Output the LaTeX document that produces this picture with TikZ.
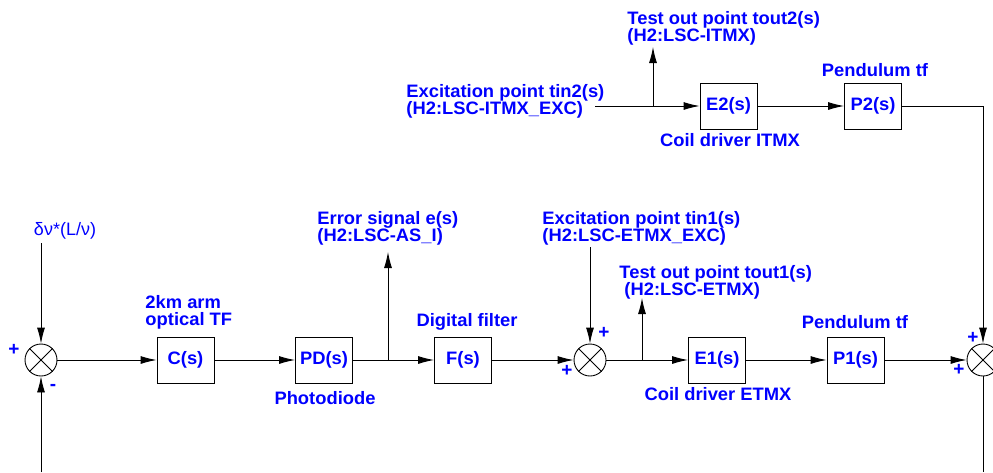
\documentclass[tikz,border=0pt]{standalone}
\usepackage{fontspec}
\setmainfont{Liberation Sans}
\usetikzlibrary{arrows.meta}
\begin{document}
\begin{tikzpicture}[x=1pt,y=-1pt,
  line width=0.9pt,
  lbl/.style={text=blue, font=\bfseries\addfontfeatures{FakeStretch=1.02}\fontsize{18}{17}\selectfont, inner sep=0pt, align=left},
  sgn/.style={text=blue, font=\bfseries\fontsize{19}{19}\selectfont, inner sep=0pt},
  blk/.style={draw, minimum width=57pt, minimum height=46pt, inner sep=0pt, text=blue, font=\bfseries\addfontfeatures{FakeStretch=1.02}\fontsize{18}{17}\selectfont},
  sumj/.style={draw, circle, minimum size=32pt, inner sep=0pt},
  arr/.style={-{Latex[length=16pt,width=8pt]}}]
\useasboundingbox (0,0) rectangle (993,472);
% summing junctions
\node[sumj] (s1) at (41,360) {};
\node[sumj] (s2) at (590,360) {};
\node[sumj] (s3) at (983,360) {};
\foreach \s in {s1,s2,s3}{
  \draw (\s.45) -- (\s.225);
  \draw (\s.135) -- (\s.315);
}
% blocks
\node[blk] (C) at (185.5,360) {C(s)};
\node[blk] (PD) at (324,360) {PD(s)};
\node[blk] (F) at (463,360) {F(s)};
\node[blk] (E1) at (717,360) {E1(s)};
\node[blk] (P1) at (855.5,360) {P1(s)};
\node[blk] (E2) at (728.5,106) {E2(s)};
\node[blk] (P2) at (873,106) {P2(s)};
% labels
\node[text=blue, font=\fontsize{18}{18}\selectfont, inner sep=0pt] (dnu) at (65,231) {δν*(L/ν)};
\node[lbl, anchor=west] (Clbl) at (145,312) {2km arm\\optical TF};
\node[lbl] (PDlbl) at (325,398) {Photodiode};
\node[lbl, anchor=west] (elbl) at (317,228) {Error signal e(s)\\(H2:LSC-AS\_I)};
\node[lbl] (Flbl) at (467,322) {Digital filter};
\node[lbl, anchor=west] (tin1) at (542,228) {Excitation point tin1(s)\\(H2:LSC-ETMX\_EXC)};
\node[lbl, anchor=west] (tout1) at (619,282) {Test out point tout1(s)\\\hspace*{5pt}(H2:LSC-ETMX)};
\node[lbl] (E1lbl) at (718,394) {Coil driver ETMX};
\node[lbl] (P1lbl) at (855,322) {Pendulum tf};
\node[lbl, anchor=west] (tin2) at (406,101) {Excitation point tin2(s)\\(H2:LSC-ITMX\_EXC)};
\node[lbl, anchor=west] (tout2) at (627,28) {Test out point tout2(s)\\(H2:LSC-ITMX)};
\node[lbl] (E2lbl) at (730,140) {Coil driver ITMX};
\node[lbl] (P2lbl) at (875,70) {Pendulum tf};
% signs
\node[sgn] (p1a) at (14,350) {+};
\node[sgn] (m1b) at (53,387) {-};
\node[sgn] (p2a) at (604,333) {+};
\node[sgn] (p2b) at (567,371) {+};
\node[sgn] (p3a) at (973,338) {+};
\node[sgn] (p3b) at (959,370) {+};
% coordinates
\coordinate (dnuT) at (41,243);
\coordinate (fbL) at (41,472);
\coordinate (fbR) at (983,472);
\coordinate (bE) at (388,360);
\coordinate (eT) at (388,252);
\coordinate (tin1T) at (590,247);
\coordinate (bT1) at (642,360);
\coordinate (t1T) at (642,298);
\coordinate (tin2S) at (595,106);
\coordinate (bT2) at (653,106);
\coordinate (t2T) at (653,47);
\coordinate (cR) at (983,106);
% connectors
\draw[arr] (dnuT) -- (s1.north);
\draw[arr] (fbL) -- (s1.south);
\draw[arr] (s1.east) -- (C.west);
\draw[arr] (C.east) -- (PD.west);
\draw (PD.east) -- (bE);
\draw[arr] (bE) -- (F.west);
\draw[arr] (bE) -- (eT);
\draw[arr] (F.east) -- (s2.west);
\draw[arr] (tin1T) -- (s2.north);
\draw (s2.east) -- (bT1);
\draw[arr] (bT1) -- (E1.west);
\draw[arr] (bT1) -- (t1T);
\draw[arr] (E1.east) -- (P1.west);
\draw[arr] (P1.east) -- (s3.west);
\draw (tin2S) -- (bT2);
\draw[arr] (bT2) -- (E2.west);
\draw[arr] (bT2) -- (t2T);
\draw[arr] (E2.east) -- (P2.west);
\draw[arr] (P2.east) -- (cR) -- (s3.north);
\draw (s3.south) -- (fbR);
\end{tikzpicture}
\end{document}
